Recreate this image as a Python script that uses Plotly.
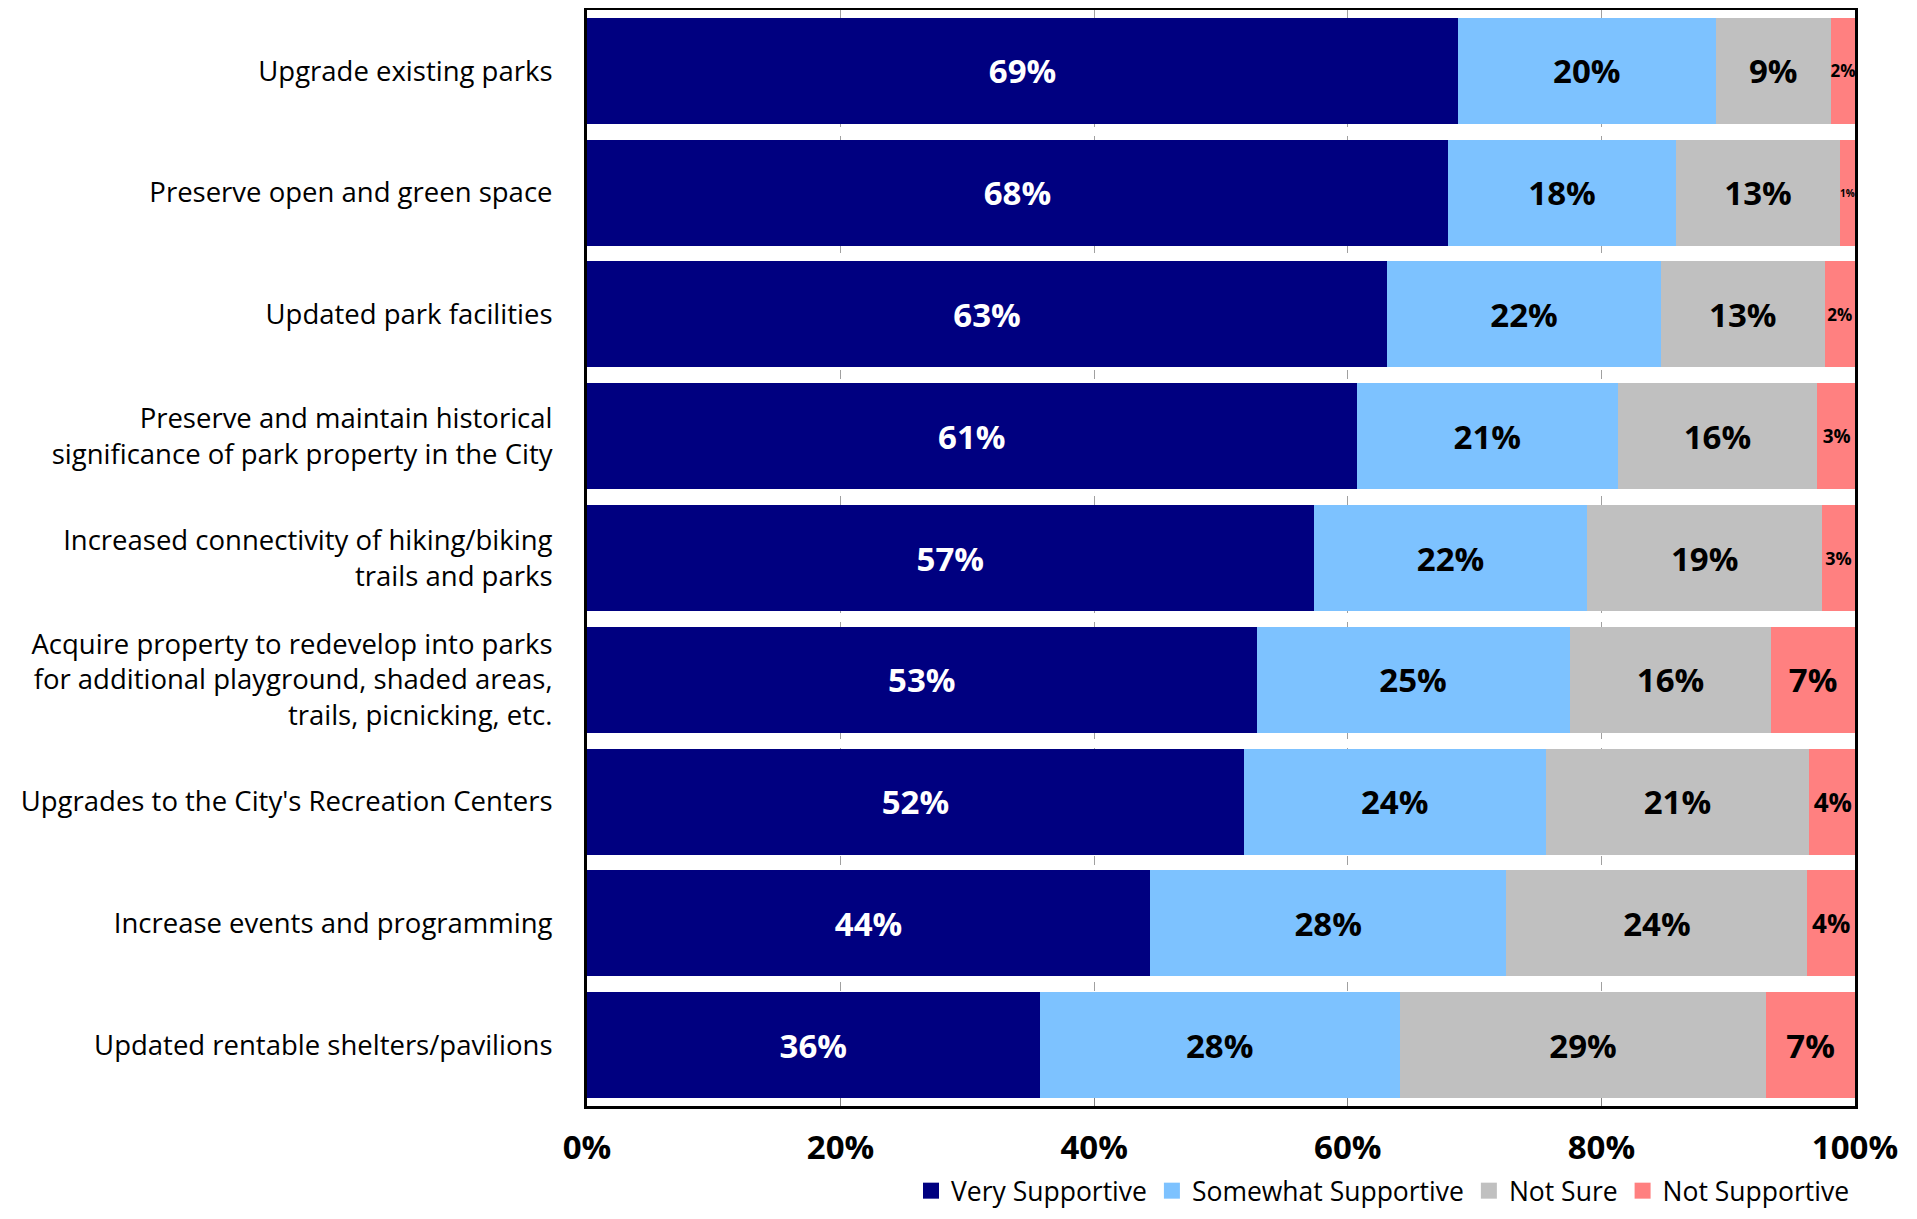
import plotly.graph_objects as go

categories = [
    "Upgrade existing parks",
    "Preserve open and green space",
    "Updated park facilities",
    "Preserve and maintain historical<br>significance of park property in the City",
    "Increased connectivity of hiking/biking<br>trails and parks",
    "Acquire property to redevelop into parks<br>for additional playground, shaded areas,<br>trails, picnicking, etc.",
    "Upgrades to the City's Recreation Centers",
    "Increase events and programming",
    "Updated rentable shelters/pavilions",
]

very_supportive = [68.7, 67.9, 63.1, 60.7, 57.3, 52.8, 51.8, 44.4, 35.7]
somewhat_supportive = [20.3, 18.0, 21.6, 20.6, 21.6, 24.7, 23.8, 28.1, 28.4]
not_sure = [9.1, 12.9, 12.9, 15.7, 18.5, 15.9, 20.8, 23.75, 28.9]
not_supportive = [1.9, 1.2, 2.4, 3.1, 2.6, 6.6, 3.7, 3.75, 7.0]

very_labels = ["69%", "68%", "63%", "61%", "57%", "53%", "52%", "44%", "36%"]
somewhat_labels = ["20%", "18%", "22%", "21%", "22%", "25%", "24%", "28%", "28%"]
notsure_labels = ["9%", "13%", "13%", "16%", "19%", "16%", "21%", "24%", "29%"]
notsupp_labels = ["2%", "1%", "2%", "3%", "3%", "7%", "4%", "4%", "7%"]

series_names = ["Very Supportive", "Somewhat Supportive", "Not Sure", "Not Supportive"]
colors = ["#000080", "#7DC2FF", "#C0C0C0", "#FF8080"]
text_colors = ["white", "black", "black", "black"]
notsupp_sizes = [17, 10, 17, 19, 18, 33, 26, 26, 33]

FONT = "Open Sans"

fig = go.Figure()
all_vals = [very_supportive, somewhat_supportive, not_sure, not_supportive]
all_labels = [very_labels, somewhat_labels, notsure_labels, notsupp_labels]
for i, name in enumerate(series_names):
    sizes = notsupp_sizes if i == 3 else [33] * len(categories)
    fig.add_trace(go.Bar(
        name=name,
        y=categories,
        x=[v / 100 for v in all_vals[i]],
        orientation="h",
        marker=dict(color=colors[i], line=dict(width=0)),
        text=all_labels[i],
        textposition="inside",
        insidetextanchor="middle",
        textangle=0,
        constraintext="none",
        textfont=dict(family=FONT, size=sizes, color=text_colors[i], weight="bold"),
        hoverinfo="skip",
        showlegend=False,
    ))

# legend proxies (bigger square swatches than the bar default)
for i, name in enumerate(series_names):
    fig.add_trace(go.Scatter(
        name=name,
        x=[None],
        y=[None],
        mode="markers",
        marker=dict(symbol="square", size=30, color=colors[i]),
        showlegend=True,
        hoverinfo="skip",
    ))

fig.update_layout(
    barmode="stack",
    bargap=0.13,
    width=1901,
    height=1203,
    margin=dict(l=579, r=54, t=2, b=105, autoexpand=False),
    plot_bgcolor="white",
    paper_bgcolor="white",
    font=dict(family=FONT, color="black"),
    showlegend=True,
    legend=dict(
        orientation="h",
        x=1.0,
        xanchor="right",
        y=-0.0775,
        yanchor="middle",
        font=dict(family=FONT, size=26.5, color="black"),
        traceorder="normal",
        itemsizing="trace",
        bgcolor="rgba(0,0,0,0)",
    ),
)

fig.update_xaxes(
    range=[0, 1],
    tickvals=[0, 0.2, 0.4, 0.6, 0.8, 1.0],
    tickformat=".0%",
    tickfont=dict(family=FONT, size=33, color="black", weight="bold"),
    showgrid=True,
    gridcolor="#A0A0A0",
    griddash="dash",
    gridwidth=1,
    ticks="inside",
    ticklen=8,
    tickcolor="#808080",
    showline=True,
    linecolor="black",
    linewidth=3,
    mirror=True,
    zeroline=False,
    ticklabelstandoff=10,
)

fig.update_yaxes(
    autorange="reversed",
    tickfont=dict(family=FONT, size=27.5, color="black"),
    showline=True,
    linecolor="black",
    linewidth=3,
    mirror=True,
    showgrid=False,
    ticks="",
    ticklabelstandoff=26,
)

fig.write_html("out.html")
